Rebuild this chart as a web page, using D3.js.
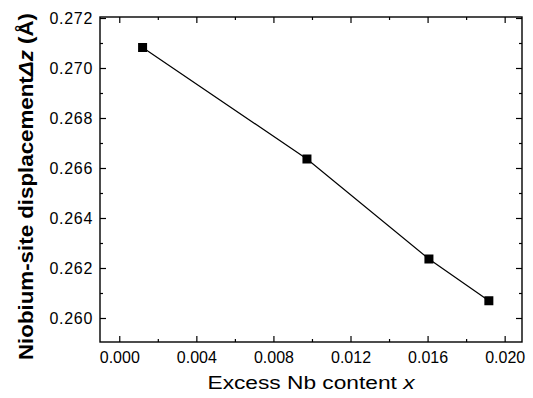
<!DOCTYPE html>
<html>
<head>
<meta charset="utf-8">
<script src="https://cdn.jsdelivr.net/npm/d3@7"></script>
<style>
  body { margin: 0; background: #fff; }
  text { font-family: "Liberation Sans", Arial, sans-serif; }
</style>
</head>
<body>
<svg id="chart"></svg>
<script>
// data
var excessNb = [0.00121, 0.00974, 0.01607, 0.01918]
var displacement = [0.27082, 0.26636, 0.26236, 0.26069]
var xTicks = [0.000, 0.004, 0.008, 0.012, 0.016, 0.020]
var yTicks = [0.260, 0.262, 0.264, 0.266, 0.268, 0.270, 0.272]

var svgWidth = 533, svgHeight = 398
var margin = {top: 17, right: 11, bottom: 56, left: 100}
var w = svgWidth - margin.left - margin.right
var h = svgHeight - margin.top - margin.bottom

var svg = d3.select('#chart')
    .attr('width', svgWidth)
    .attr('height', svgHeight)

var g = svg.append('g')
    .attr('transform', 'translate(' + margin.left + ',' + margin.top + ')')

var x = d3.scaleLinear().domain([-0.001, 0.0209]).range([0, w])
var y = d3.scaleLinear().domain([0.25904, 0.27204]).range([h, 0])

// minor ticks half way between the majors
var xMinor = d3.range(0.002, 0.020, 0.004)
var yMinor = d3.range(0.261, 0.272, 0.002)

function styleAxis(sel) {
    sel.select('.domain').remove()
    sel.selectAll('line').attr('stroke', '#000').attr('stroke-width', 1.2)
    sel.selectAll('text').attr('fill', '#000').style('font-size', '16px')
}

// major ticks, inward
g.append('g').attr('transform', 'translate(0,' + h + ')')
    .call(d3.axisBottom(x).tickValues(xTicks).tickFormat(d3.format('.3f')).tickSizeInner(-6).tickPadding(10))
    .call(styleAxis)
g.append('g')
    .call(d3.axisTop(x).tickValues(xTicks).tickFormat('').tickSizeInner(-6))
    .call(styleAxis)
g.append('g')
    .call(d3.axisLeft(y).tickValues(yTicks).tickFormat(d3.format('.3f')).tickSizeInner(-6).tickPadding(7))
    .call(styleAxis)
    .selectAll('text').style('letter-spacing', '0.7px')
g.append('g').attr('transform', 'translate(' + w + ',0)')
    .call(d3.axisRight(y).tickValues(yTicks).tickFormat('').tickSizeInner(-6))
    .call(styleAxis)

// minor ticks
g.append('g').attr('transform', 'translate(0,' + h + ')')
    .call(d3.axisBottom(x).tickValues(xMinor).tickFormat('').tickSizeInner(-3))
    .call(styleAxis)
g.append('g')
    .call(d3.axisTop(x).tickValues(xMinor).tickFormat('').tickSizeInner(-3))
    .call(styleAxis)
g.append('g')
    .call(d3.axisLeft(y).tickValues(yMinor).tickFormat('').tickSizeInner(-3))
    .call(styleAxis)
g.append('g').attr('transform', 'translate(' + w + ',0)')
    .call(d3.axisRight(y).tickValues(yMinor).tickFormat('').tickSizeInner(-3))
    .call(styleAxis)

// frame
g.append('rect')
    .attr('width', w)
    .attr('height', h)
    .attr('fill', 'none')
    .attr('stroke', '#000')
    .attr('stroke-width', 1.4)

var points = excessNb.map(function(d, i) { return [d, displacement[i]] })

var line = d3.line()
    .x(function(d) { return x(d[0]) })
    .y(function(d) { return y(d[1]) })

g.append('path')
    .datum(points)
    .attr('d', line)
    .attr('fill', 'none')
    .attr('stroke', '#000')
    .attr('stroke-width', 1.2)

var s = 9
g.selectAll('rect.pt')
    .data(points)
    .enter()
    .append('rect')
    .attr('class', 'pt')
    .attr('x', function(d) { return x(d[0]) - s / 2 })
    .attr('y', function(d) { return y(d[1]) - s / 2 })
    .attr('width', s)
    .attr('height', s)
    .attr('fill', '#000')

// axis titles (the scan is a bit wider than the font, so stretch them)
var xt = svg.append('text')
    .attr('x', 311)
    .attr('y', 389)
    .attr('text-anchor', 'middle')
    .attr('textLength', 207)
    .attr('lengthAdjust', 'spacingAndGlyphs')
    .style('font-size', '18px')
xt.append('tspan').text('Excess Nb content ')
xt.append('tspan').attr('font-style', 'italic').text('x')

var yt = svg.append('text')
    .attr('transform', 'translate(33,186.5) rotate(-90)')
    .attr('text-anchor', 'middle')
    .attr('textLength', 347)
    .attr('lengthAdjust', 'spacingAndGlyphs')
    .style('font-size', '20px')
    .style('font-weight', 'bold')
yt.append('tspan').text('Niobium-site displacement')
yt.append('tspan').attr('font-style', 'italic').text('\u0394z')
yt.append('tspan').text(' (\u00c5)')
</script>
</body>
</html>
